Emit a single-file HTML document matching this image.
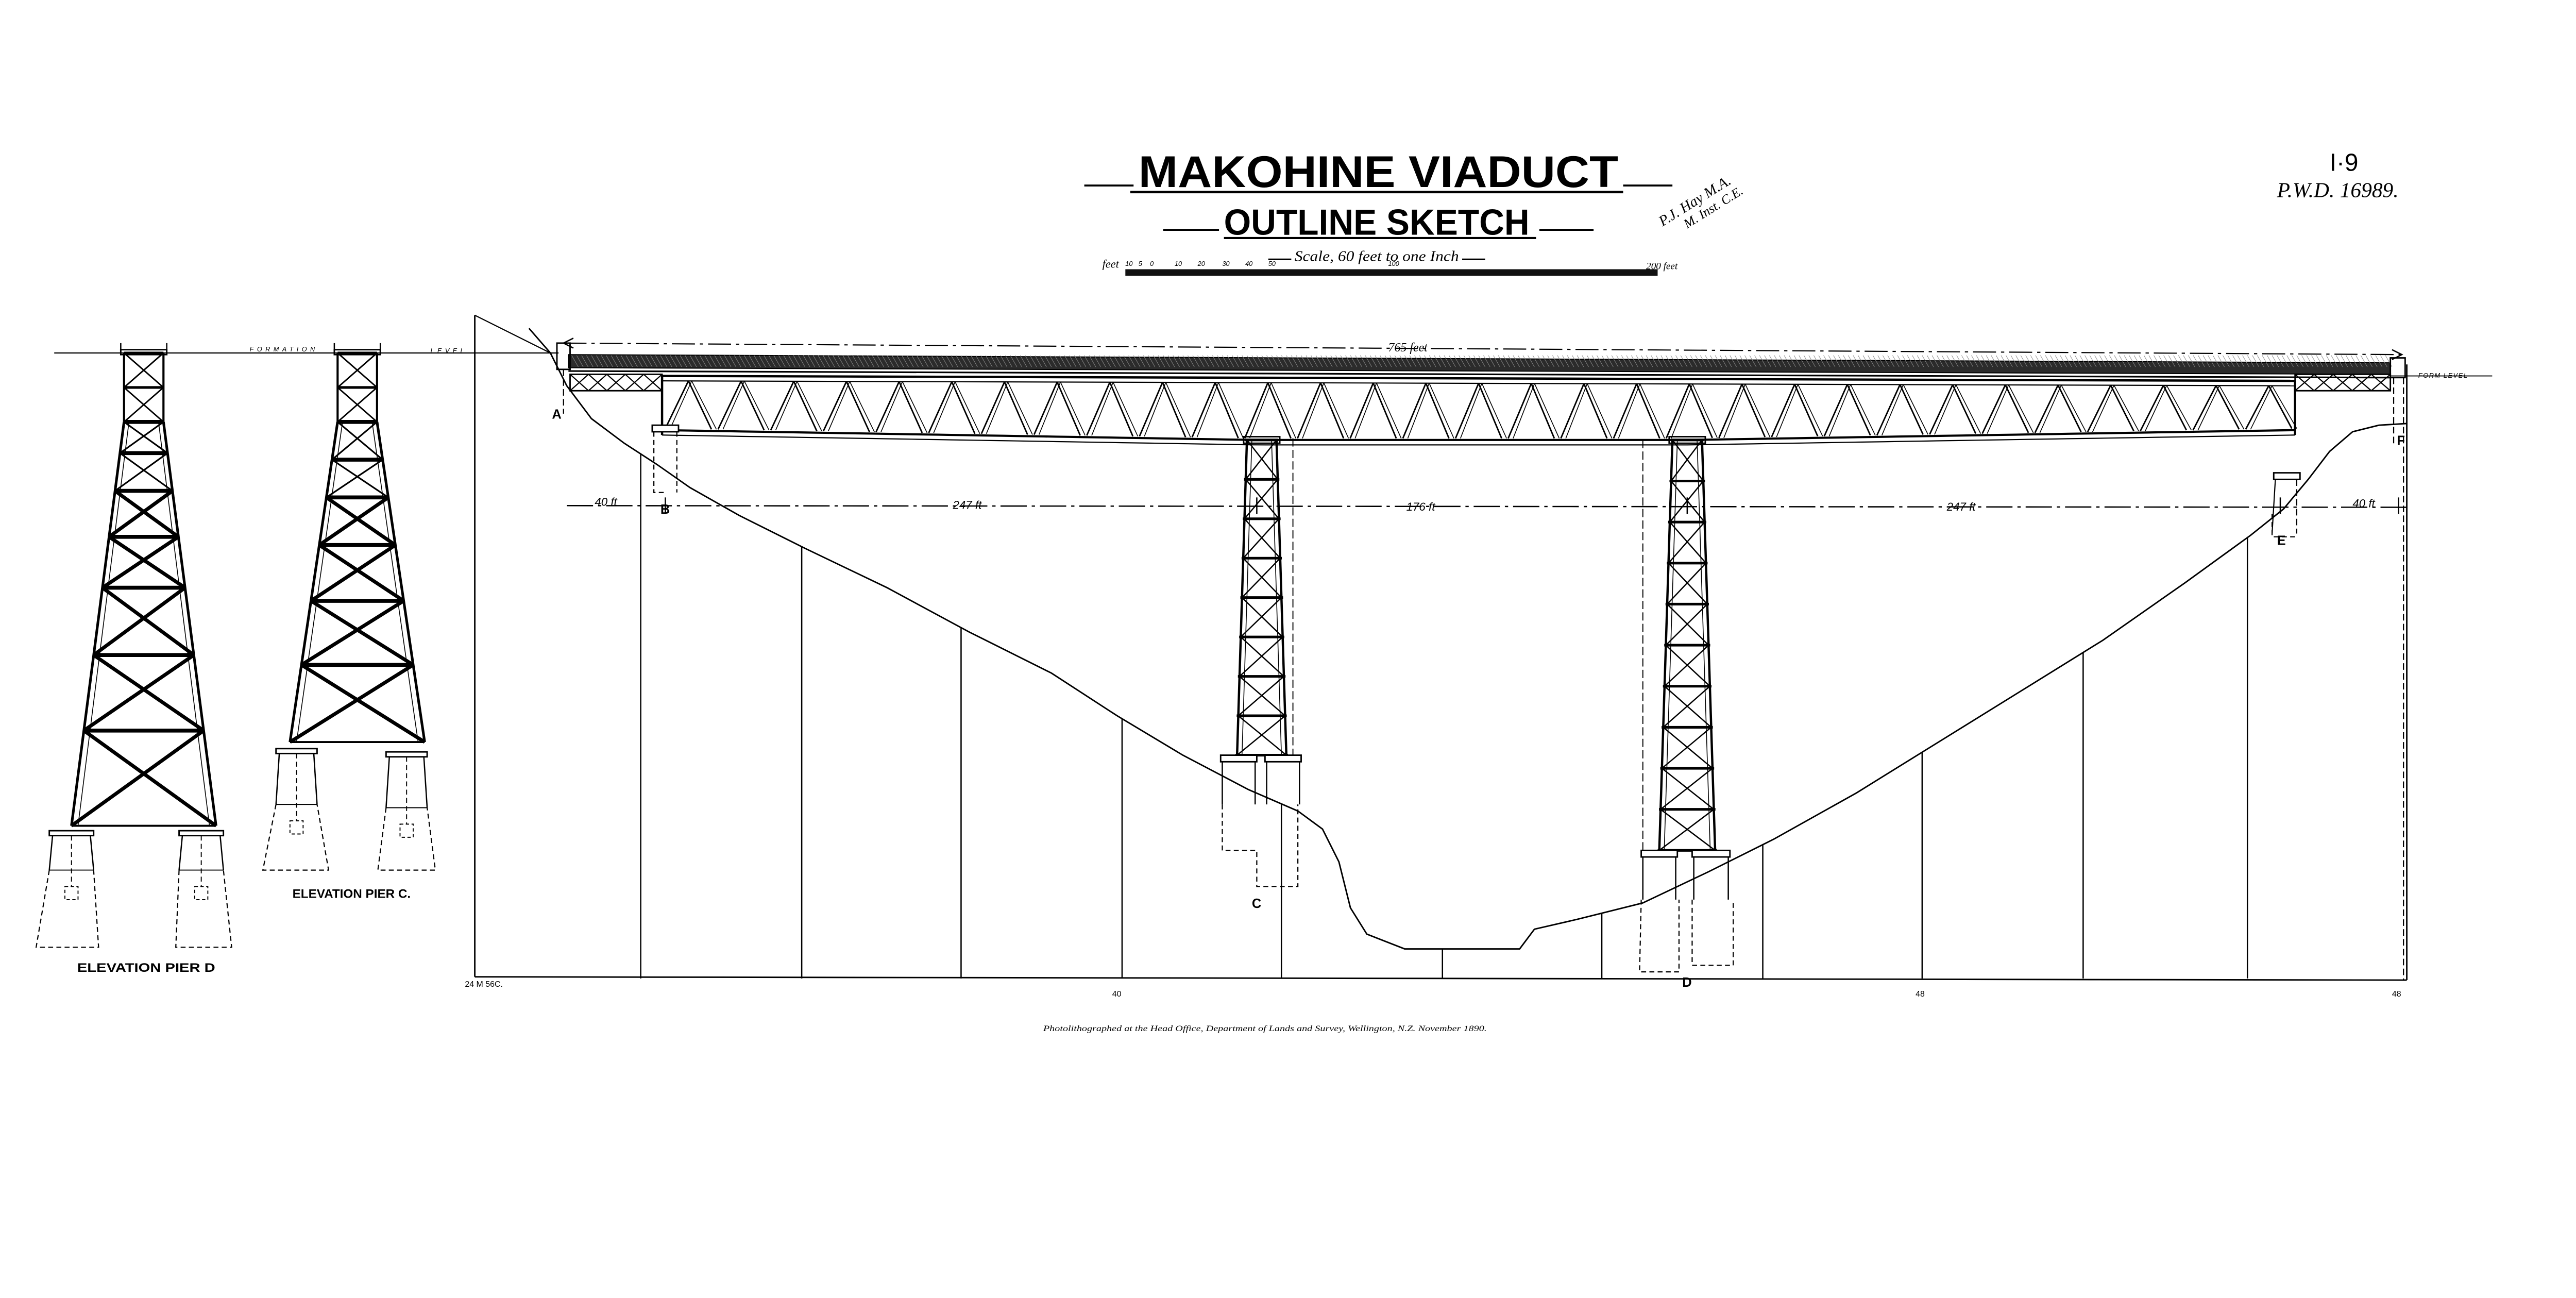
<!DOCTYPE html>
<html><head><meta charset="utf-8">
<style>
html,body{margin:0;padding:0;background:#fff;overflow:hidden;}
svg{display:block;position:absolute;left:0;top:0;width:100vw;height:calc(100vw * 2519 / 5278);}
text{font-family:"Liberation Sans",sans-serif;fill:#000;}
.it{font-family:"Liberation Serif",serif;font-style:italic;}
.cn{font-family:"Liberation Sans Narrow","Liberation Sans",sans-serif;font-weight:bold;}
</style></head>
<body>
<svg id="s" xmlns="http://www.w3.org/2000/svg" viewBox="0 0 1568 749" preserveAspectRatio="none">
<rect width="1568" height="749" fill="#fff"/>
<text class="cn" x="693" y="114" font-size="27" textLength="292" lengthAdjust="spacingAndGlyphs">MAKOHINE VIADUCT</text>
<line x1="660" y1="113" x2="690" y2="113" stroke="#000" stroke-width="1.2"/>
<line x1="688" y1="117" x2="988" y2="117" stroke="#000" stroke-width="1.5"/>
<line x1="988" y1="113" x2="1018" y2="113" stroke="#000" stroke-width="1.2"/>
<text class="cn" x="745" y="143" font-size="22" textLength="186" lengthAdjust="spacingAndGlyphs">OUTLINE SKETCH</text>
<line x1="708" y1="140" x2="742" y2="140" stroke="#000" stroke-width="1.2"/>
<line x1="745" y1="145" x2="935" y2="145" stroke="#000" stroke-width="1.3"/>
<line x1="937" y1="140" x2="970" y2="140" stroke="#000" stroke-width="1.2"/>
<text class="it" x="788" y="159" font-size="9" textLength="100" lengthAdjust="spacingAndGlyphs">Scale, 60 feet to one Inch</text>
<line x1="772" y1="158" x2="786" y2="158" stroke="#000"/><line x1="890" y1="158" x2="904" y2="158" stroke="#000"/>
<text class="it" x="671" y="163" font-size="7">feet</text>
<text class="it" x="1002" y="164" font-size="6">200 feet</text>
<rect x="685" y="164" width="324" height="4" fill="#111"/>
<g class="it" font-size="4"><text x="685" y="162">10</text><text x="693" y="162">5</text><text x="700" y="162">0</text><text x="715" y="162">10</text><text x="729" y="162">20</text><text x="744" y="162">30</text><text x="758" y="162">40</text><text x="772" y="162">50</text><text x="845" y="162">100</text></g>
<g transform="translate(1012,138) rotate(-32)"><text class="it" font-size="9" x="0" y="0">P.J. Hay M.A.</text><text class="it" font-size="8" x="12" y="9">M. Inst. C.E.</text></g>
<text x="1418" y="104" font-family="Liberation Serif" font-size="15">I·9</text>
<text class="it" x="1386" y="120" font-size="13">P.W.D. 16989.</text>
<g id="g" fill="none" stroke="#000" stroke-width="0.9"></g>
<g font-size="4" font-style="italic"><text x="152" y="214" letter-spacing="2">FORMATION</text><text x="262" y="215" letter-spacing="2">LEVEL</text><text x="1472" y="230" letter-spacing="0.5">FORM LEVEL</text></g>
<text class="it" x="845" y="214" font-size="7.5">765 feet</text>
<g class="it" font-size="7"><text x="362" y="308">40 ft</text><text x="580" y="310">247 ft</text><text x="856" y="311">176 ft</text><text x="1185" y="311">247 ft</text><text x="1432" y="309">40 ft</text></g>
<g font-weight="bold" font-size="8"><text x="336" y="255">A</text><text x="402" y="313">B</text><text x="762" y="553">C</text><text x="1024" y="601">D</text><text x="1386" y="332">E</text><text x="1459" y="271">F</text></g>
<g font-weight="bold" font-size="7.5"><text x="47" y="592" textLength="84" lengthAdjust="spacingAndGlyphs">ELEVATION PIER D</text><text x="178" y="547" textLength="72" lengthAdjust="spacingAndGlyphs">ELEVATION PIER C.</text></g>
<g font-size="5"><text x="283" y="601">24 M 56C.</text><text x="677" y="607">40</text><text x="1166" y="607">48</text><text x="1456" y="607">48</text></g>
<text class="it" x="635" y="628" font-size="5" textLength="270" lengthAdjust="spacingAndGlyphs">Photolithographed at the Head Office, Department of Lands and Survey, Wellington, N.Z. November 1890.</text>
</svg>
<script>
(function(){
var g=document.getElementById('g'),NS='http://www.w3.org/2000/svg';
function el(t,a){var e=document.createElementNS(NS,t);for(var k in a)e.setAttribute(k,a[k]);g.appendChild(e);return e;}
function L(x1,y1,x2,y2,w,d){var a={x1:x1,y1:y1,x2:x2,y2:y2};if(w)a['stroke-width']=w;if(d)a['stroke-dasharray']=d;return el('line',a);}
function P(pts,w,d,f){var a={points:pts.map(function(p){return p.join(',')}).join(' ')};if(w)a['stroke-width']=w;if(d)a['stroke-dasharray']=d;if(f)a.fill=f;return el('polyline',a);}
L(33,215,340,215,0.7);L(1455,229,1517,229,0.6);
L(289,192,289,595);L(289,595,1465,597);L(1465,222,1465,597);
L(289,192,335,215,0.7);
var T=[[322,200],[335,215],[345,235],[360,255],[380,270],[400,283],[420,297],[450,314],[490,334],[540,358],[590,385],[640,410],[680,436],[720,460],[760,481],[790,494],[805,505],[815,525],[822,553],[832,569],[855,578],[925,578],[934,566],[960,560],[1000,550],[1040,531],[1080,511],[1130,483],[1180,452],[1230,421],[1280,390],[1330,355],[1370,326],[1390,310],[1405,292],[1418,275],[1432,263],[1448,259],[1465,258]];
P(T,0.9);
function ty(x){for(var i=0;i<T.length-1;i++){if(x>=T[i][0]&&x<=T[i+1][0]){var t=(x-T[i][0])/(T[i+1][0]-T[i][0]);return T[i][1]+t*(T[i+1][1]-T[i][1]);}}return 597;}
[390,488,585,683,780,878,975,1073,1170,1268,1368].forEach(function(x){L(x,ty(x),x,596,0.8);});
L(343,209,1462,216,0.7,'14 3 2 3');
P([[349,206],[343,209],[349,212]],0.8);P([[1456,213],[1462,216],[1456,219]],0.8);
L(345,308,1465,309,0.8,'16 3 2 3');
[405,765,1027,1388,1460].forEach(function(x){L(x,303,x,313,0.8);});
el('polygon',{points:'346,216 1455,221 1455,228 346,224',fill:'#2b2b2b',stroke:'#000','stroke-width':0.6});
for(var x=348;x<1455;x+=3){L(x,216.5,x+4,223.5,0.3).setAttribute('stroke','#888');}
L(346,226,1455,230,1);
function approach(x1,x2){el('rect',{x:x1,y:228,width:x2-x1,height:10});var n=5,w=(x2-x1)/n;for(var i=0;i<n;i++){L(x1+i*w,228,x1+(i+1)*w,238,0.7);L(x1+(i+1)*w,228,x1+i*w,238,0.7);}}
approach(347,403);approach(1397,1455);
L(403,229,1397,232,1.4);L(403,232,1397,235,0.7);
function by(x){if(x<765)return 262+(x-403)/(765-403)*6;if(x<1027)return 268;return 268-(x-1027)/(1397-1027)*6;}
var bp=[];for(var x2=403;x2<=1397;x2+=8)bp.push([x2,by(x2)]);bp.push([1397,by(1397)]);P(bp,1.3);
var bp2=bp.map(function(p){return [p[0],p[1]+3]});P(bp2,0.7);
L(403,229,403,265,1.4);L(1397,232,1397,265,1.4);
var step=(1397-403)/62;
function tc(x){return 232+(x-403)/994*3;}
for(var i=0;i<62;i++){var xa=403+i*step,xb=xa+step;
 if(i%2==0){L(xa+2,by(xa)-1,xb,tc(xb),0.9);L(xa+5,by(xa)-1,xb+2,tc(xb),0.5);}else{L(xa,tc(xa),xb-2,by(xb)-1,0.9);L(xa+2,tc(xa),xb+1,by(xb)-1,0.5);}}
el('rect',{x:339,y:209,width:8,height:16});L(343,225,343,252,0.7,'4 2');
el('rect',{x:1455,y:218,width:9,height:12});L(1457,230,1457,270,0.7,'4 2');L(1463,230,1463,597,0.7,'4 2');
el('rect',{x:397,y:259,width:16,height:4,fill:'#fff'});P([[398,263],[398,300],[405,300]],0.7,'3 2');L(412,263,412,300,0.7,'3 2');
el('rect',{x:1384,y:288,width:16,height:4});L(1385,292,1383,325,0.7);L(1398,292,1398,325,0.7,'4 2');P([[1383,313],[1383,327],[1398,327]],0.7,'3 2');
function mtower(cx,yt,yb,wt,wb,n){var lt=cx-wt/2,rt=cx+wt/2,lb=cx-wb/2,rb=cx+wb/2;
 L(lt,yt,lb,yb,1.4);L(rt,yt,rb,yb,1.4);L(lt+3,yt,lb+3,yb,0.5);L(rt-3,yt,rb-3,yb,0.5);
 var h=(yb-yt)/n;for(var i=0;i<=n;i++){var y=yt+i*h,f=i/n,l=lt+(lb-lt)*f,r=rt+(rb-rt)*f;L(l-1,y,r+1,y,1.6);
  if(i<n){var y2=y+h,f2=(i+1)/n,l2=lt+(lb-lt)*f2,r2=rt+(rb-rt)*f2;L(l,y,r2,y2,0.8);L(r,y,l2,y2,0.8);}}
 el('rect',{x:cx-wt/2-2,y:yt-2,width:wt+4,height:4});}
mtower(768,268,460,18,30,8);
mtower(1027,268,518,18,34,10);
function base(x1,x2,y){el('rect',{x:x1,y:y,width:x2-x1,height:4,fill:'#fff'});L(x1+1,y+4,x1+1,y+30,0.8);L(x2-1,y+4,x2-1,y+30,0.8);}
base(743,765,460);base(770,792,460);
P([[744,490],[744,518],[765,518],[765,540],[790,540],[790,490]],0.7,'3 2');
L(787,267,787,460,0.6,'5 2');
base(999,1021,518);base(1030,1053,518);
P([[999,548],[998,592],[1022,592],[1022,548]],0.7,'3 2');P([[1030,548],[1030,588],[1055,588],[1055,548]],0.7,'3 2');
L(1000,268,1000,520,0.6,'5 2');
function etower(cx,bw,yt,yb0,wbot,levels){var hl=bw/2;
 el('rect',{x:cx-hl-2,y:yt-2,width:bw+4,height:3});
 L(cx-hl-2,yt-6,cx-hl-2,yt,0.8);L(cx+hl+2,yt-6,cx+hl+2,yt,0.8);
 L(cx-hl,yt,cx-hl,yb0,1.3);L(cx+hl,yt,cx+hl,yb0,1.3);
 var ym=(yt+yb0)/2;[yt,ym,yb0].forEach(function(y){L(cx-hl,y,cx+hl,y,1.6);});
 L(cx-hl,yt,cx+hl,ym,0.9);L(cx+hl,yt,cx-hl,ym,0.9);L(cx-hl,ym,cx+hl,yb0,0.9);L(cx+hl,ym,cx-hl,yb0,0.9);
 var yb=levels[levels.length-1];
 function xl(y){return cx-hl-(y-yb0)/(yb-yb0)*(wbot/2-hl);}
 function xr(y){return 2*cx-xl(y);}
 L(xl(yb0),yb0,xl(yb),yb,1.6);L(xr(yb0),yb0,xr(yb),yb,1.6);
 L(xl(yb0)+3,yb0,xl(yb)+4,yb,0.5);L(xr(yb0)-3,yb0,xr(yb)-4,yb,0.5);
 for(var i=0;i<levels.length;i++){var y=levels[i];L(xl(y),y,xr(y),y,i==levels.length-1?1.2:2.4);
  if(i<levels.length-1){var y2=levels[i+1];var w=i<2?1:2.2;L(xl(y),y,xr(y2),y2,w);L(xr(y),y,xl(y2),y2,w);}}
}
etower(87.5,24,215,257,88,[257,276,299,327,358,399,445,503]);
etower(217.5,24,215,257,82,[257,280,303,332,366,405,452]);
function foot(xa,xb,yt,xc,xd,ym,yb){el('rect',{x:xa-2,y:yt,width:xb-xa+4,height:3,fill:'#fff'});L(xa,yt+3,xa-2,ym,0.8);L(xb,yt+3,xb+2,ym,0.8);L(xa-2,ym,xb+2,ym,0.6);
 P([[xa-2,ym],[xc,yb],[xd,yb],[xb+2,ym]],0.7,'3 2');var cx=(xa+xb)/2;L(cx,yt+3,cx,ym+10,0.6,'3 2');el('rect',{x:cx-4,y:ym+10,width:8,height:8,'stroke-dasharray':'2 1.5','stroke-width':0.6});}
foot(32,55,506,22,60,530,577);foot(111,134,506,107,141,530,577);
foot(170,191,456,160,200,490,530);foot(237,258,458,230,265,492,530);
})();
</script>
</body></html>
